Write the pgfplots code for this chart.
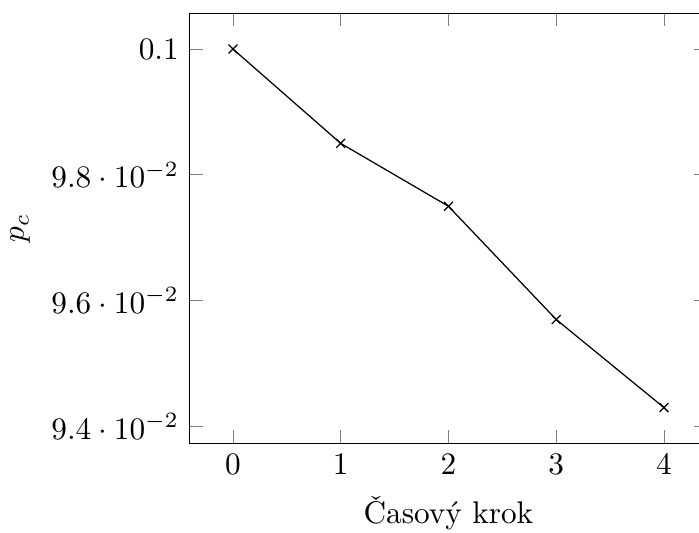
\documentclass[border=0pt]{standalone}
\usepackage{pgfplots}
\pgfplotsset{compat=1.18}
\begin{document}
\begin{tikzpicture}
\begin{axis}[
  name=ax,
  scale only axis,
  width=165.4pt, height=137.6pt,
  xlabel={Časový krok},
  ylabel={$p_c$},
  xtick={0,1,2,3,4},
]
\addplot[black, mark=x] coordinates {
(0,0.1) (1,0.0985) (2,0.0975) (3,0.0957) (4,0.0943)
};
\end{axis}
\pgfresetboundingbox
\path[use as bounding box] ([yshift=-28.5pt]ax.outer west |- ax.south) rectangle ([xshift=-2.56pt,yshift=4.2pt]ax.north east);
\end{tikzpicture}
\end{document}
